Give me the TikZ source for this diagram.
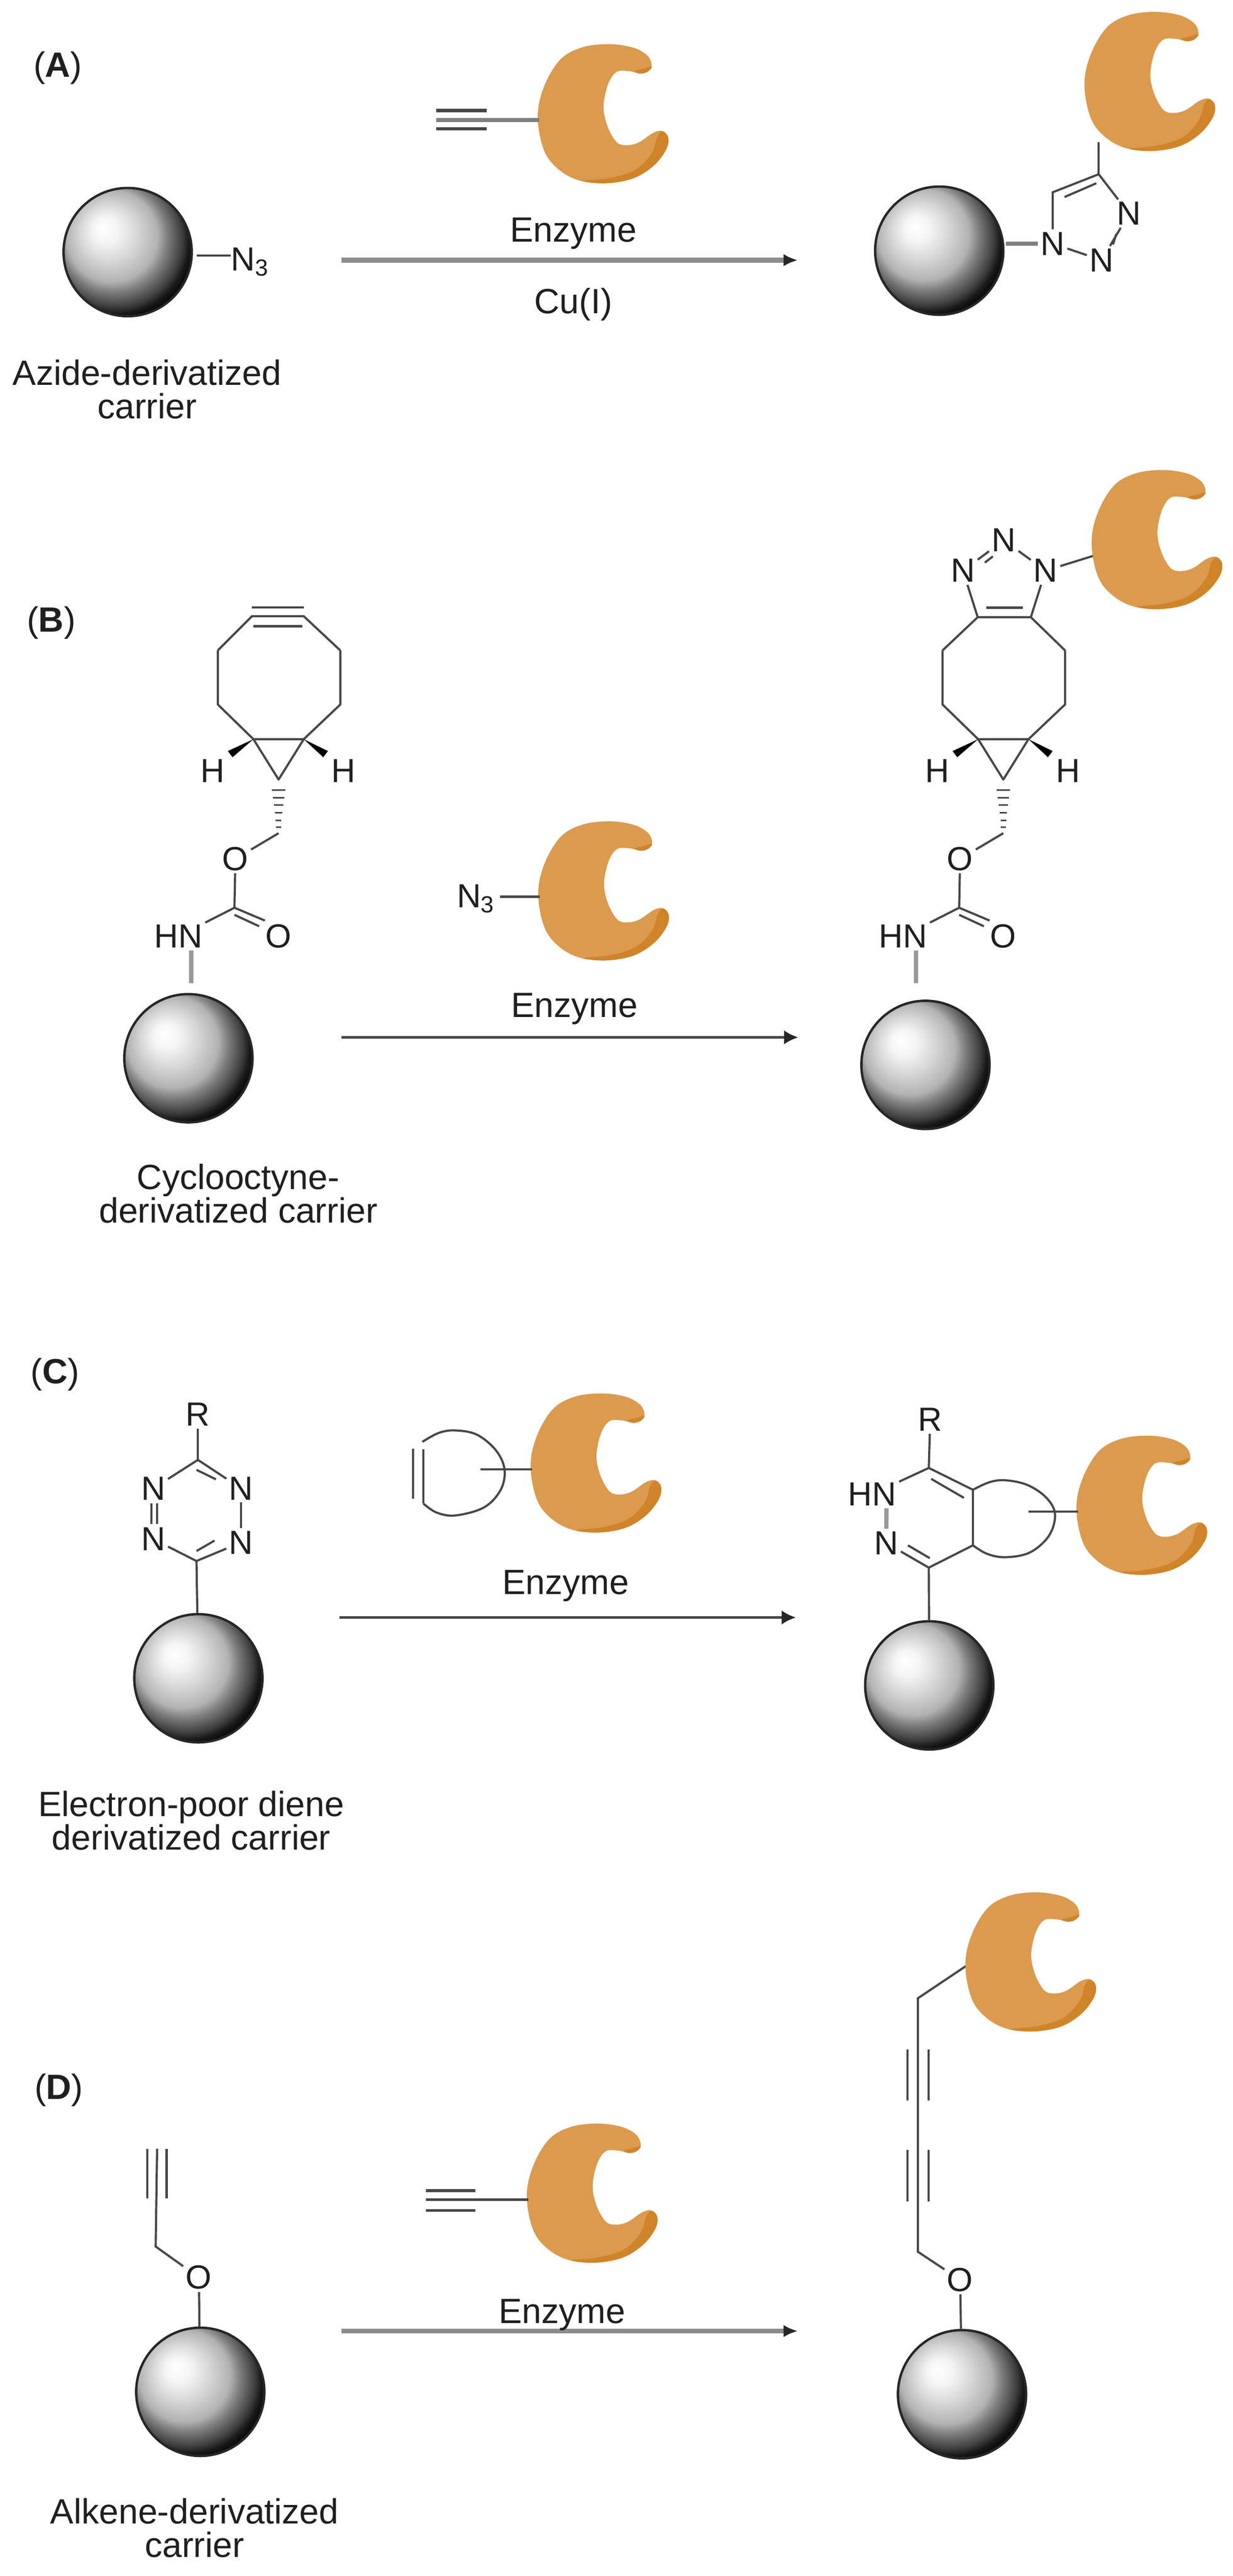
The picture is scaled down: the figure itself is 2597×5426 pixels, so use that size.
\documentclass[tikz,border=0pt]{standalone}
\usepackage{fontspec}
\setmainfont{Liberation Sans}
\usetikzlibrary{positioning, calc, arrows.meta}

\definecolor{enzymeMain}{HTML}{DC9A4E}
\definecolor{enzymeDark}{HTML}{D0842A}

\pgfdeclareradialshading{carrierball}{\pgfpoint{-9.7bp}{9.7bp}}{%
  color(0bp)=(white); color(5bp)=(black!4); color(10.8bp)=(black!15); color(17.8bp)=(black!30);
  color(21bp)=(black!50); color(26bp)=(black!76); color(28bp)=(black!90); color(31bp)=(black); color(50bp)=(black)}

\tikzset{
  bond/.style={draw=black!72, line width=0.045cm},
  fatbond/.style={draw=black!50, line width=0.09cm},
  atom/.style={inner sep=0.05cm, text=black!88, font=\fontsize{20}{20}\selectfont},
  caption/.style={inner sep=0pt, align=center, text=black!88, font=\fontsize{21}{20}\selectfont},
  reagent/.style={inner sep=0pt, text=black!88, font=\fontsize{21}{20}\selectfont},
  carrier/.style={circle, minimum size=2.7cm, inner sep=0pt, shading=carrierball, draw=black!85, line width=0.05cm},
  thinarrow/.style={draw=black!72, line width=0.05cm, -{Latex[length=0.3cm,width=0.3cm,black!85]}},
  fatarrow/.style={draw=black!45, line width=0.1cm, -{Latex[length=0.3cm,width=0.26cm,black!85]}},
  enzyme/.pic={
    \fill[enzymeMain] plot[smooth cycle, tension=0.6] coordinates {(0,153) (13,90) (47,33) (93,7) (150,0) (200,7) (230,23)
      (240,43) (233,57) (217,62) (193,57) (167,58) (150,80) (140,117) (140,147) (150,180) (167,207)
      (187,213) (213,207) (243,187) (263,183) (275,197) (270,223) (243,257) (200,283) (143,293)
      (87,287) (43,263) (13,223)};
    \fill[enzymeDark] plot[smooth cycle, tension=0.6] coordinates {(263,184) (275,197) (270,223) (243,257) (200,283)
      (143,293) (95,288) (150,282) (205,265) (240,230) (252,195)};
    \fill[enzymeDark] plot[smooth cycle, tension=0.6] coordinates {(240,47) (233,57) (217,62) (204,57) (222,52)};
    \coordinate (-hook) at (3,160);
  },
  % ring foot and carbamate of the cyclooctyne, as drawn on the left
  linker/.pic={
    \coordinate (-u1) at (459,1370);
    \coordinate (-u2) at (717,1370);
    \coordinate (-v1) at (459,1484);
    \coordinate (-v2) at (717,1484);
    \coordinate (-w1) at (534,1557);
    \coordinate (-w2) at (640,1557);
    \coordinate (-apex) at (587,1642);
    \coordinate (-ch) at (587,1755);
    \coordinate (-co) at (494,1912);
    \coordinate (-oa) at (558,1939);
    \coordinate (-foot) at (403,2071);
    \node[atom] (-hl) at (448,1624) {H};
    \node[atom] (-hr) at (724,1624) {H};
    \node[atom] (-ox) at (496,1809) {O};
    \node[atom] (-oy) at (587,1972) {O};
    \node[atom] (-hn) at (376,1972) {HN};
    \draw[bond, line join=round] (-u1) -- (-v1) -- (-w1) -- (-w2) -- (-v2) -- (-u2);
    \draw[bond, line join=round] (-w1) -- (-apex) -- (-w2);
    \fill[black] (-w1) -- (480,1582) -- (490,1595) -- cycle;
    \fill[black] (-w2) -- (691,1582) -- (681,1595) -- cycle;
    \foreach \yy/\ww in {1664/14, 1680/12, 1696/10, 1712/8, 1728/6, 1742/5}
      \draw[black!72, line width=0.03cm] (587-\ww,\yy) -- (587+\ww,\yy);
    \draw[bond] (-ch) -- (-ox);
    \draw[bond] (-ox) -- (-co);
    \draw[bond] (-co) -- (-hn);
    \draw[bond] (-co) -- (-oa);
    \draw[bond] (494,1927) -- (546,1951);
    \draw[fatbond, draw=black!40] ([xshift=0.27cm]-hn.south) -- (-foot);
  }
}

\begin{document}
\begin{tikzpicture}[x=0.01cm, y=-0.01cm]
    \useasboundingbox (0,0) rectangle (2597,5426);

    % Panel A
    \node[reagent] (aTag) at (122,143) {(\textbf{A})};
    \node[carrier] (aLeft) at (269,531) {};
    \node[carrier] (aRight) at (1979,528) {};
    \node[atom, anchor=base west, inner sep=0pt] (aAzide) at (486,570) {N\textsubscript{3}};
    \coordinate (aTail) at (414,538);
    \draw[bond] (aTail) -- (aTail -| aAzide.west);
    \node[caption] (aText) at (310,820) {Azide-derivatized\\carrier};
    \coordinate (aFrom) at (720,548);
    \coordinate (aTo) at (1681,548);
    \draw[fatarrow] (aFrom) -- (aTo);
    \node[reagent, anchor=base] (aEnzyme) at (1208,510) {Enzyme};
    \node[reagent, anchor=base] (aCopper) at (1208,660) {Cu(I)};
    \coordinate (aAlkyne) at (919,253);
    \pic (aMid) at (1133,93) {enzyme};
    \draw[fatbond] (aAlkyne) -- (aMid-hook);
    \draw[bond, line width=0.07cm] (919,233) -- (1026,233);
    \draw[bond, line width=0.07cm] (919,271) -- (1026,271);
    \node[atom] (aN1) at (2218,513) {N};
    \node[atom] (aN2) at (2321,548) {N};
    \node[atom] (aN3) at (2379,450) {N};
    \coordinate (aC5) at (2218,405);
    \coordinate (aC4) at (2315,367);
    \coordinate (aHook) at (2119,513);
    \coordinate (aTop) at (2315,300);
    \draw[fatbond] (aHook) -- (aN1);
    \draw[bond] (aN1) -- (aC5) -- (aC4) -- (aN3);
    \draw[bond] (2243,415) -- (2310,386);
    \draw[bond] (aN3) -- (aN2);
    \draw[bond] (2352,493) -- (2345,515);
    \draw[bond] (aN2) -- (aN1);
    \draw[bond] (aC4) -- (aTop);
    \pic (aEnd) at (2285,25) {enzyme};

    % Panel B
    \node[reagent] (bTag) at (108,1312) {(\textbf{B})};
    \node[carrier] (bLeft) at (397,2229) {};
    \node[carrier] (bRight) at (1950,2243) {};
    \pic (bFoot) at (0,0) {linker};
    \coordinate (bY1) at (531,1298);
    \coordinate (bY2) at (640,1298);
    \draw[bond] (bFoot-u1) -- (bY1) -- (bY2) -- (bFoot-u2);
    \draw[bond] (531,1279) -- (640,1279);
    \draw[bond] (534,1319) -- (637,1319);
    \node[caption] (bText) at (502,2514) {Cyclooctyne-\\derivatized carrier};
    \coordinate (bFrom) at (720,2185);
    \coordinate (bTo) at (1682,2185);
    \draw[thinarrow] (bFrom) -- (bTo);
    \node[reagent, anchor=base] (bEnzyme) at (1210,2143) {Enzyme};
    \node[atom, anchor=base west, inner sep=0pt] (bAzide) at (962,1912) {N\textsubscript{3}};
    \pic (bMid) at (1134,1730) {enzyme};
    \coordinate (bTail) at (1054,1889);
    \coordinate (bHook) at (1137,1889);
    \draw[bond, line width=0.06cm] (bTail) -- (bHook);
    \pic (bFootR) at (1527,0) {linker};
    \coordinate (bD1) at (2060,1300);
    \coordinate (bD2) at (2172,1300);
    \draw[bond] (bFootR-u1) -- (bD1) -- (bD2) -- (bFootR-u2);
    \draw[bond] (2078,1280) -- (2155,1280);
    \node[atom] (bN1) at (2029,1202) {N};
    \node[atom] (bN2) at (2115,1138) {N};
    \node[atom] (bN3) at (2203,1202) {N};
    \draw[bond] (bD1) -- (bN1);
    \draw[bond] (bD2) -- (bN3);
    \draw[bond] (bN1) -- (bN2);
    \draw[bond] (2075,1185) -- (2092,1172);
    \draw[bond] (bN2) -- (bN3);
    \coordinate (bEndHook) at (2303,1171);
    \draw[bond] (bN3) -- (bEndHook);
    \pic (bEnd) at (2300,990) {enzyme};

    % Panel C
    \node[reagent] (cTag) at (116,2895) {(\textbf{C})};
    \node[carrier] (cLeft) at (418,3535) {};
    \node[carrier] (cRight) at (1958,3550) {};
    \node[atom] (cR) at (417,2979) {R};
    \coordinate (cC1) at (417,3075);
    \coordinate (cC2) at (414,3288);
    \node[atom] (cN1) at (323,3135) {N};
    \node[atom] (cN2) at (508,3135) {N};
    \node[atom] (cN3) at (323,3242) {N};
    \node[atom] (cN4) at (508,3249) {N};
    \draw[bond] (cR) -- (cC1);
    \draw[bond] (cN1) -- (cC1) -- (cN2);
    \draw[bond] (414,3096) -- (455,3116);
    \draw[bond] (319,3167) -- (319,3210);
    \draw[bond] (331,3167) -- (331,3210);
    \draw[bond] (cN2) -- (cN4);
    \draw[bond] (cN3) -- (cC2) -- (cN4);
    \draw[bond] (414,3267) -- (452,3245);
    \draw[bond] (cC2) -- (cLeft);
    \node[caption] (cText) at (403,3835) {Electron-poor diene\\derivatized carrier};
    \coordinate (cFrom) at (715,3407);
    \coordinate (cTo) at (1677,3407);
    \draw[thinarrow] (cFrom) -- (cTo);
    \node[reagent, anchor=base] (cEnzyme) at (1192,3358) {Enzyme};
    \coordinate (cInner) at (1013,3095);
    \pic (cMid) at (1118,2935) {enzyme};
    \draw[bond] (cInner) -- (cMid-hook);
    \draw[bond] (870,3052) -- (870,3157);
    \draw[bond] (892,3053) -- (892,3167);
    \draw[bond] plot[smooth, tension=0.6] coordinates {(890,3037) (925,3018) (960,3013) (1005,3022) (1045,3055) (1063,3095) (1055,3138) (1020,3175) (960,3192) (920,3186) (892,3167)};
    \node[atom] (dR) at (1960,2990) {R};
    \coordinate (dC1) at (1957,3092);
    \coordinate (dC2) at (1957,3302);
    \coordinate (dJt) at (2050,3138);
    \coordinate (dJb) at (2050,3255);
    \node[atom] (dHN) at (1838,3147) {HN};
    \node[atom] (dN) at (1867,3250) {N};
    \draw[bond] (dR) -- (dC1);
    \draw[bond] (dHN) -- (dC1) -- (dJt) -- (dJb) -- (dC2) -- (dN);
    \draw[bond] (1962,3115) -- (2031,3155);
    \draw[bond] (1913,3255) -- (1959,3282);
    \draw[fatbond, draw=black!40] ([xshift=0.3cm]dHN.south) -- (dN);
    \draw[bond] (dC2) -- (cRight);
    \draw[bond] plot[smooth, tension=0.6] coordinates {(2050,3138) (2085,3122) (2119,3118) (2165,3128) (2205,3155) (2223,3190) (2210,3235) (2170,3270) (2119,3280) (2080,3273) (2050,3255)};
    \coordinate (dInner) at (2167,3184);
    \pic (cEnd) at (2268,3024) {enzyme};
    \draw[bond] (dInner) -- (cEnd-hook);

    % Panel D
    \node[reagent] (eTag) at (124,4402) {(\textbf{D})};
    \node[carrier] (eLeft) at (422,5038) {};
    \node[carrier] (eRight) at (2027,5043) {};
    \coordinate (eTip) at (331,4526);
    \coordinate (eCH) at (328,4732);
    \node[atom] (eO) at (419,4797) {O};
    \draw[bond] (eTip) -- (eCH) -- (eO);
    \draw[bond] (310,4526) -- (310,4630);
    \draw[bond] (351,4526) -- (351,4630);
    \draw[bond] (eO) -- (eLeft);
    \node[caption] (eText) at (410,5325) {Alkene-derivatized\\carrier};
    \coordinate (eFrom) at (720,4910);
    \coordinate (eTo) at (1681,4910);
    \draw[fatarrow] (eFrom) -- (eTo);
    \node[reagent, anchor=base] (eEnzyme) at (1184,4894) {Enzyme};
    \coordinate (eAlkyne) at (897,4633);
    \pic (eMid) at (1110,4473) {enzyme};
    \draw[bond, line width=0.06cm] (eAlkyne) -- (eMid-hook);
    \draw[bond, line width=0.06cm] (897,4614) -- (1002,4614);
    \draw[bond, line width=0.06cm] (897,4656) -- (1002,4656);
    \node[atom] (fO) at (2023,4802) {O};
    \coordinate (fCH) at (1934,4743);
    \coordinate (fTop) at (1934,4209);
    \coordinate (fHook) at (2037,4140);
    \draw[bond] (fO) -- (fCH) -- (fTop) -- (fHook);
    \draw[bond] (1912,4317) -- (1912,4424);
    \draw[bond] (1957,4317) -- (1957,4424);
    \draw[bond] (1912,4529) -- (1912,4637);
    \draw[bond] (1957,4529) -- (1957,4637);
    \draw[bond] (fO) -- (eRight);
    \pic (eEnd) at (2034,3986) {enzyme};
\end{tikzpicture}
\end{document}
